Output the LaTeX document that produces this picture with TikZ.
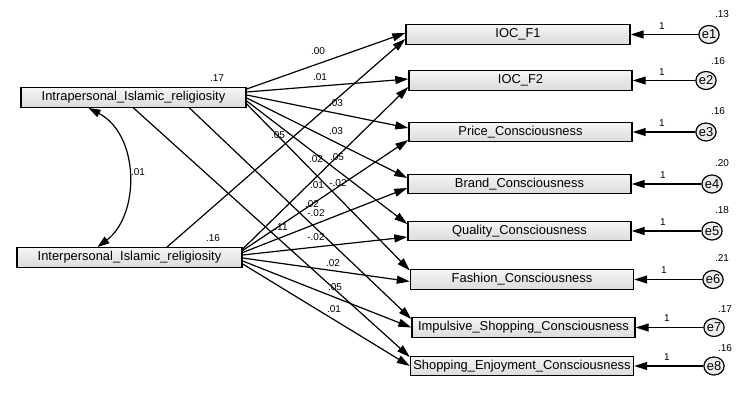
\documentclass[tikz,border=0pt]{standalone}
\usepackage{fontspec}
\setmainfont{Liberation Sans}
\usetikzlibrary{arrows.meta,calc,shapes.geometric}
\begin{document}
\begin{tikzpicture}[x=1pt,y=-1pt,
  var/.style={draw, line width=1.4pt, top color=gray!8, bottom color=gray!28, minimum width=223pt, minimum height=19.5pt, inner sep=0pt, font=\fontsize{12.9}{14}\selectfont},
  err/.style={draw, line width=1.2pt, ellipse, fill=gray!15, minimum width=20pt, minimum height=18pt, inner sep=0pt, font=\fontsize{12.9}{14}\selectfont},
  regline/.style={line width=1.2pt, -{Triangle[length=13pt,width=8pt]}},
  lbl/.style={font=\fontsize{10}{11}\selectfont, inner sep=0pt},
]
\useasboundingbox (0,0) rectangle (752,394);
\fill[white] (0,0) rectangle (752,394);

% exogenous
\node[var, minimum width=225pt] (intra) at (133.5,97.5) {Intrapersonal\_Islamic\_religiosity};
\node[var, minimum width=225pt] (inter) at (129.5,257.5) {Interpersonal\_Islamic\_religiosity};
\node[lbl] (vintra) at (217,78) {.17};
\node[lbl] (vinter) at (213,238) {.16};

% endogenous
\node[var, minimum width=224pt] (f1) at (518,34.5) {IOC\_F1};
\node[var] (f2) at (520.5,80.5) {IOC\_F2};
\node[var] (pc) at (520.5,132) {Price\_Consciousness};
\node[var] (bc) at (519.5,184) {Brand\_Consciousness};
\node[var] (qc) at (519.5,231) {Quality\_Consciousness};
\node[var] (fc) at (522,279.5) {Fashion\_Consciousness};
\node[var] (ic) at (523.5,327.5) {Impulsive\_Shopping\_Consciousness};
\node[var] (sc) at (522,366) {Shopping\_Enjoyment\_Consciousness};

% errors
\node[err] (e1) at (709,34.5) {e1};
\node[err] (e2) at (706,80.5) {e2};
\node[err] (e3) at (706,132) {e3};
\node[err] (e4) at (712,184) {e4};
\node[err] (e5) at (712,231) {e5};
\node[err] (e6) at (713,279.5) {e6};
\node[err] (e7) at (714,327.5) {e7};
\node[err] (e8) at (714,366) {e8};

\node[lbl] (v1) at (722,14) {.13};
\node[lbl] (v2) at (718,61) {.16};
\node[lbl] (v3) at (718,111) {.16};
\node[lbl] (v4) at (722,163) {.20};
\node[lbl] (v5) at (722,210) {.18};
\node[lbl] (v6) at (722,258) {.21};
\node[lbl] (v7) at (725,309) {.17};
\node[lbl] (v8) at (725,348) {.16};

\foreach \e/\t/\x/\y in {e1/f1/662/26, e2/f2/662/72, e3/pc/662/123, e4/bc/663/175, e5/qc/663/222, e6/fc/664/270, e7/ic/667/318, e8/sc/667/357}{
  \draw[regline] (\e) -- (\t.east);
  \node[lbl] (one\e) at (\x,\y) {1};
}

% covariance
\draw[line width=1.2pt, {Triangle[length=12pt,width=8pt]}-{Triangle[length=12pt,width=8pt]}]
  ($(intra.south)+(-45,0)$) .. controls (140,135) and (140,215) .. ($(inter.north)+(-32,0)$);
\node[lbl] (cov) at (138,172) {.01};

% paths from intrapersonal
\draw[regline] ($(intra.east)+(0,-8.5)$) -- ($(f1.west)+(0,-1.5)$);
\draw[regline] ($(intra.east)+(0,-5.5)$) -- ($(f2.west)+(0,-1.5)$);
\draw[regline] ($(intra.east)+(0,-2.5)$) -- ($(pc.west)+(0,-4)$);
\draw[regline] ($(intra.east)+(0,0.5)$) -- ($(bc.west)+(0,-6)$);
\draw[regline] ($(intra.east)+(0,3.5)$) -- ($(qc.west)+(0,-7)$);
\draw[regline] ($(intra.east)+(0,6.5)$) -- ($(fc.west)+(0,-9)$);
\draw[regline] ($(intra.south)+(56,0)$) -- ($(ic.west)+(0,-8.5)$);
\draw[regline] (intra.south) -- ($(sc.west)+(0,-9)$);

% paths from interpersonal
\draw[regline] ($(inter.north)+(37.5,0)$) -- ($(f1.west)+(0,4.5)$);
\draw[regline] ($(inter.east)+(0,-8.5)$) -- ($(f2.west)+(0,6.5)$);
\draw[regline] ($(inter.east)+(0,-7)$) -- ($(pc.west)+(0,8)$);
\draw[regline] ($(inter.east)+(0,-5)$) -- ($(bc.west)+(0,4)$);
\draw[regline] ($(inter.east)+(0,-2.5)$) -- ($(qc.west)+(0,6)$);
\draw[regline] ($(inter.east)+(0,0.5)$) -- ($(fc.west)+(0,2)$);
\draw[regline] ($(inter.east)+(0,3.5)$) -- ($(ic.west)+(0,0)$);
\draw[regline] ($(inter.east)+(0,6.5)$) -- ($(sc.west)+(0,0)$);

% path labels
\node[lbl] (l1) at (318,51) {.00};
\node[lbl] (l2) at (320,77) {.01};
\node[lbl] (l3) at (336,103) {.03};
\node[lbl] (l4) at (336,131) {.03};
\node[lbl] (l5) at (278,135) {.05};
\node[lbl] (l6) at (316,159) {.02};
\node[lbl] (l7) at (337,157) {.05};
\node[lbl] (l8) at (317,185) {.01};
\node[lbl] (l9) at (338,183) {-.02};
\node[lbl] (l10) at (312,204) {.02};
\node[lbl] (l11) at (316,213) {-.02};
\node[lbl] (l12) at (281,227) {.11};
\node[lbl] (l13) at (316,237) {-.02};
\node[lbl] (l14) at (333,263) {.02};
\node[lbl] (l15) at (335,287) {.05};
\node[lbl] (l16) at (334,309) {.01};
\end{tikzpicture}
\end{document}
